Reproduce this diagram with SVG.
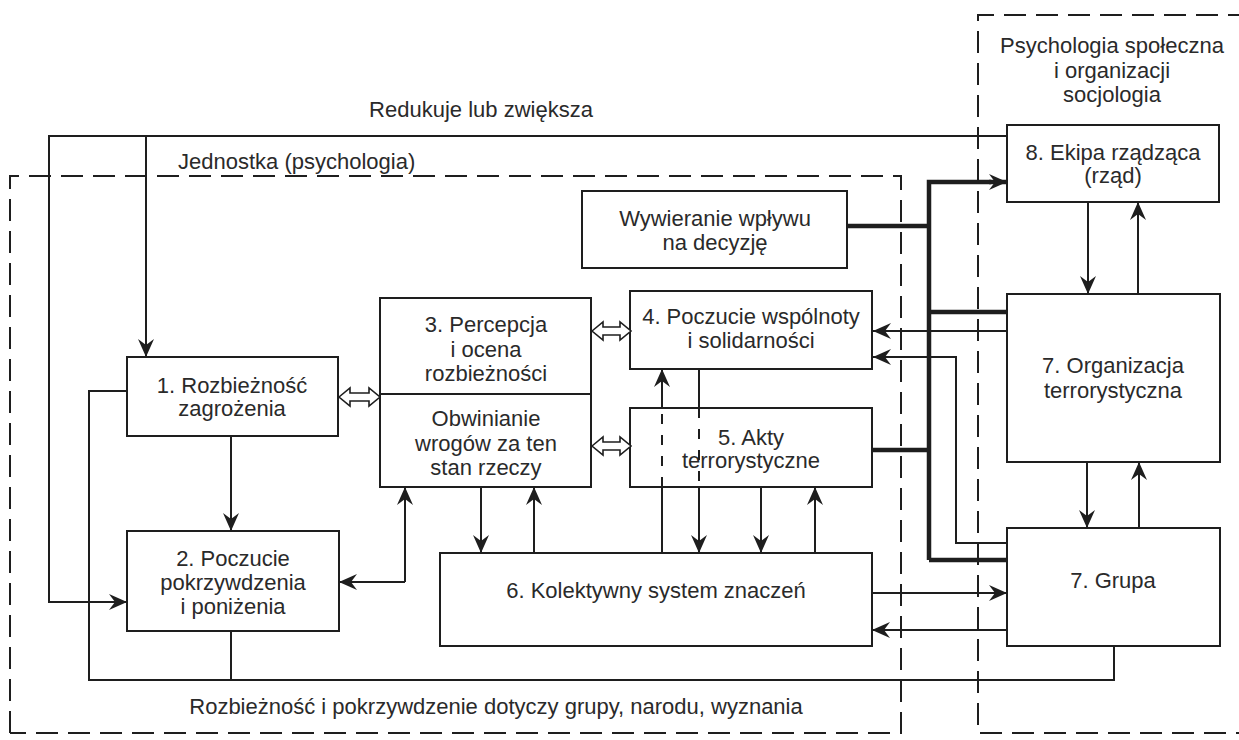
<svg xmlns="http://www.w3.org/2000/svg" width="1239" height="740" viewBox="0 0 1239 740">
<defs>
<style>
.box{fill:#fff;stroke:#1e1e1e;stroke-width:2}
.t{font-family:"Liberation Sans",Arial,sans-serif;font-size:22px;fill:#2a2a2a;text-anchor:middle}
.tl{text-anchor:start}
.ln{fill:none;stroke:#1e1e1e;stroke-width:2}
.thick{fill:none;stroke:#1e1e1e;stroke-width:4.5}
.arr{marker-end:url(#ah)}
.dash{fill:none;stroke:#1e1e1e;stroke-width:2;stroke-dasharray:10 11}
.region{fill:none;stroke:#1e1e1e;stroke-width:2;stroke-dasharray:22 10}
.dbl{fill:#fff;stroke:#1e1e1e;stroke-width:1.6}
</style>
<marker id="ah" viewBox="0 0 18 16" refX="18" refY="8" markerWidth="18" markerHeight="16" markerUnits="userSpaceOnUse" orient="auto">
<path d="M0,0 L18,8 L0,16 L6,8 Z" fill="#1e1e1e"/>
</marker>
</defs>
<rect width="1239" height="740" fill="#fff"/>

<g id="regions">
<path class="region" d="M10,733 V176 H901 V733 H10"/>
<path class="region" d="M1250,15 H978 V733 H1250"/>
<text class="t" x="481" y="117">Redukuje lub zwiększa</text>
<text class="t tl" x="178" y="169">Jednostka (psychologia)</text>
<text class="t" x="1112" y="53">Psychologia społeczna</text>
<text class="t" x="1112" y="78">i organizacji</text>
<text class="t" x="1112" y="102">socjologia</text>
<text class="t" x="496" y="714">Rozbieżność i pokrzywdzenie dotyczy grupy, narodu, wyznania</text>
</g>

<g id="node1">
<rect class="box" x="127" y="357" width="211" height="79"/>
<text class="t" x="232" y="393">1. Rozbieżność</text>
<text class="t" x="232" y="416">zagrożenia</text>
</g>
<g id="node2">
<rect class="box" x="127" y="531" width="212" height="100"/>
<text class="t" x="233" y="566">2. Poczucie</text>
<text class="t" x="233" y="590">pokrzywdzenia</text>
<text class="t" x="233" y="614">i poniżenia</text>
</g>
<g id="node3">
<rect class="box" x="380" y="298" width="211" height="189"/>
<line class="ln" x1="380" y1="394" x2="591" y2="394"/>
<text class="t" x="486" y="332">3. Percepcja</text>
<text class="t" x="486" y="357">i ocena</text>
<text class="t" x="486" y="381">rozbieżności</text>
<text class="t" x="486" y="426">Obwinianie</text>
<text class="t" x="486" y="451">wrogów za ten</text>
<text class="t" x="486" y="475">stan rzeczy</text>
</g>
<g id="node4">
<rect class="box" x="630" y="291" width="242" height="78"/>
<text class="t" x="751" y="324">4. Poczucie wspólnoty</text>
<text class="t" x="751" y="348">i solidarności</text>
</g>
<g id="node5">
<rect class="box" x="630" y="408" width="242" height="79"/>
<text class="t" x="751" y="445">5. Akty</text>
<text class="t" x="751" y="468">terrorystyczne</text>
</g>
<g id="node6">
<rect class="box" x="440" y="553" width="432" height="93"/>
<text class="t" x="656" y="598">6. Kolektywny system znaczeń</text>
</g>
<g id="nodeW">
<rect class="box" x="582" y="191" width="265" height="77"/>
<text class="t" x="715" y="226">Wywieranie wpływu</text>
<text class="t" x="715" y="250">na decyzję</text>
</g>
<g id="node8">
<rect class="box" x="1007" y="125" width="212" height="77"/>
<text class="t" x="1113" y="160">8. Ekipa rządząca</text>
<text class="t" x="1113" y="183">(rząd)</text>
</g>
<g id="node7org">
<rect class="box" x="1007" y="294" width="213" height="168"/>
<text class="t" x="1113" y="373">7. Organizacja</text>
<text class="t" x="1113" y="398">terrorystyczna</text>
</g>
<g id="node7grupa">
<rect class="box" x="1007" y="528" width="213" height="118"/>
<text class="t" x="1113" y="588">7. Grupa</text>
</g>

<g id="connectors">
<path class="ln arr" d="M1007,136 H49 V602 H127"/>
<path class="ln arr" d="M146,136 V357"/>
<path class="ln arr" d="M231,436 V531"/>
<path class="ln" d="M127,391 H89 V680 H1114 V646"/>
<path class="ln" d="M231,631 V680"/>
<path class="ln arr" d="M405,582 V487"/>
<path class="ln arr" d="M405,582 H339"/>
<path class="ln arr" d="M481,487 V553"/>
<path class="ln arr" d="M534,553 V487"/>
<path class="ln" d="M662,553 V487"/>
<path class="dash" d="M662,487 V408"/>
<path class="ln arr" d="M662,408 V369"/>
<path class="ln" d="M699,369 V408"/>
<path class="dash" d="M699,408 V487"/>
<path class="ln arr" d="M699,487 V553"/>
<path class="ln arr" d="M761,487 V553"/>
<path class="ln arr" d="M815,553 V487"/>
<path class="thick" d="M847,226 H929"/>
<path class="thick" d="M929,560 V182 H991"/>
<path class="ln arr" d="M989,182 H1007" style="stroke-width:4.5"/>
<path class="thick" d="M929,312 H1007"/>
<path class="thick" d="M873,450 H929"/>
<path class="thick" d="M929,560 H1007"/>
<path class="ln arr" d="M1007,331 H873"/>
<path class="ln arr" d="M1007,543 H956 V357 H873"/>
<path class="ln arr" d="M872,593 H1007"/>
<path class="ln arr" d="M1007,630 H872"/>
<path class="ln arr" d="M1088,202 V294"/>
<path class="ln arr" d="M1138,294 V202"/>
<path class="ln arr" d="M1087,462 V528"/>
<path class="ln arr" d="M1139,528 V462"/>
<path class="dbl" d="M339,397 L350,388 V393 H369 V388 L380,397 L369,406 V401 H350 V406 Z"/>
<path class="dbl" d="M592,331 L603,322 V327 H620 V322 L631,331 L620,340 V335 H603 V340 Z"/>
<path class="dbl" d="M592,446 L603,437 V442 H620 V437 L631,446 L620,455 V450 H603 V455 Z"/>
</g>
</svg>
